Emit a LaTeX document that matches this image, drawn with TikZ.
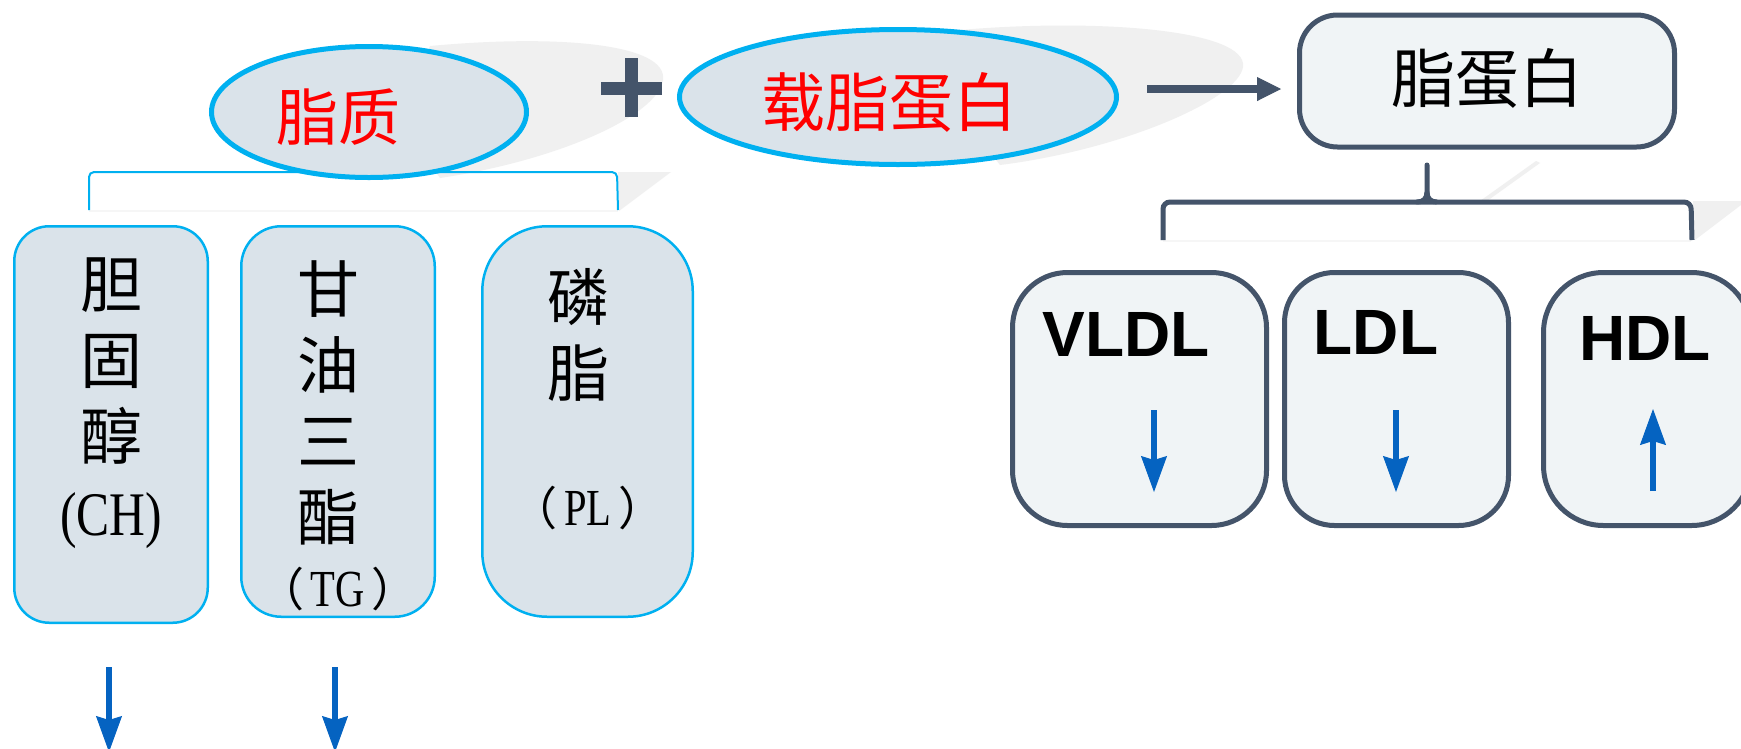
\documentclass[tikz,border=0pt]{standalone}
\usepackage{fontspec}
\usepackage{graphicx}
\setmainfont{Liberation Serif}
\newfontfamily\cjk{Noto Sans CJK SC}
\newfontfamily\lsans{Liberation Sans}
\usetikzlibrary{arrows.meta,shapes.geometric}
\definecolor{cyanb}{HTML}{00B0F0}
\definecolor{slate}{HTML}{44546A}
\definecolor{paleblue}{HTML}{DAE3EA}
\definecolor{palegrey}{HTML}{F0F4F6}
\definecolor{shadowg}{HTML}{F0F0F0}
\definecolor{arrowblue}{HTML}{0563C1}
\tikzset{
  lipell/.style={ellipse, draw=cyanb, line width=5pt, fill=paleblue, inner sep=0pt},
  lipbox/.style={rectangle, draw=cyanb, line width=2.5pt, fill=paleblue, inner sep=0pt},
  lpbox/.style={rectangle, draw=slate, line width=5pt, fill=palegrey, inner sep=0pt},
  redtxt/.style={text=red, font=\cjk\fontsize{62}{70}\selectfont, inner sep=0pt},
  blktxt/.style={text=black, font=\cjk\fontsize{64}{70}\selectfont, inner sep=0pt},
  coltxt/.style={text=black, font=\cjk\fontsize{62}{76}\selectfont, align=center, inner sep=0pt},
  smalltxt/.style={text=black, font=\cjk\fontsize{46}{50}\selectfont, inner sep=0pt},
  lbl/.style={text=black, font=\lsans\bfseries\fontsize{64}{70}\selectfont, inner sep=0pt},
  barrow/.style={draw=arrowblue, line width=6pt, -{Stealth[length=36pt,width=26pt,inset=4pt,line width=1pt]}},
  darrow/.style={draw=slate, line width=8pt, -{Triangle[length=24pt,width=24pt,line width=1pt]}},
  shadowfill/.style={fill=shadowg, draw=none},
}
\newcommand{\latinab}[1]{\scalebox{0.78}[1]{\rmfamily\fontsize{52}{56}\selectfont #1}}
\begin{document}
\begin{tikzpicture}[x=1pt,y=-1pt]
\useasboundingbox (0,0) rectangle (1741,748);
\clip (0,0) rectangle (1741,748);
\fill[white] (0,0) rectangle (1741,748);
% soft shadows
\path[shadowfill] (430,46) .. controls (560,34) and (668,44) .. (663,80) .. controls (658,115) and (560,160) .. (440,178) -- (400,120) -- cycle;
\path[shadowfill] (960,30) .. controls (1100,18) and (1248,30) .. (1243,67) .. controls (1238,100) and (1120,150) .. (1000,165) -- (950,100) -- cycle;
\path[shadowfill] (618,172) -- (671,172) -- (619,211) -- cycle;
\path[shadowfill] (1693,201) -- (1741,201) -- (1741,205) -- (1695,240) -- cycle;
\path[shadowfill] (1536,161) -- (1540,163) -- (1487,201) -- (1480,201) -- cycle;
\draw[shadowg!60!white, line width=2pt] (89,211) -- (618,211);
\draw[shadowg!60!white, line width=2pt] (1163,241) -- (1691,241);
% brackets
\draw[cyanb, line width=2pt, rounded corners=5pt] (89,210) -- (89,172) -- (617,172) -- (618,210);
\draw[slate, line width=5pt, rounded corners=7pt] (1163,240) -- (1163,202) -- (1691,202) -- (1692,240);
\draw[slate, line width=5pt, line cap=round] (1427,165) -- (1427,192) .. controls (1427,199) and (1423,202) .. (1417,202);
\draw[slate, line width=5pt] (1427,192) .. controls (1427,199) and (1431,202) .. (1437,202);
% top row
\node[lipell, minimum width=315pt, minimum height=131pt] (lipid) at (369,112) {};
\node[redtxt] (lipidt) at (338,117) {脂质};
\fill[slate] (601,82) rectangle (662,95);
\fill[slate] (625,58) rectangle (638,117);
\node[lipell, minimum width=437pt, minimum height=135pt] (apo) at (898,97) {};
\node[redtxt, font=\cjk\fontsize{64}{70}\selectfont] (apot) at (889,102) {载脂蛋白};
\node[lpbox, rounded corners=38pt, minimum width=375pt, minimum height=132pt] (lp) at (1487,81) {};
\node[blktxt] (lpt) at (1487,78) {脂蛋白};
\coordinate (arrowy) at (0,89);
\draw[darrow, shorten <=28pt, shorten >=16pt] (apo.east |- arrowy) -- (lp.west |- arrowy);
% left boxes
\node[lipbox, rounded corners=35pt, minimum width=193.5pt, minimum height=396.5pt] (ch) at (111,424.5) {};
\node[lipbox, rounded corners=40pt, minimum width=193.5pt, minimum height=390.5pt] (tg) at (338,421.5) {};
\node[lipbox, rounded corners=65pt, minimum width=210.5pt, minimum height=390.5pt] (pl) at (587.5,421.5) {};
\node[coltxt] (cht) at (111,403) {胆\\固\\醇\\{\rmfamily\scalebox{0.8}[1]{(CH)}}};
\node[coltxt] (tgt) at (328,403) {甘\\油\\三\\酯};
\node[smalltxt] (tgl) at (338,589) {（\hspace{6pt}\latinab{TG}\hspace{6pt}）};
\node[coltxt] (plt) at (578,335) {磷\\脂};
\node[smalltxt] (pll) at (588,508) {（\hspace{7pt}\latinab{PL}\hspace{7pt}）};
% bottom arrows
\coordinate (c1) at (109,667);
\coordinate (c2) at (109,752);
\coordinate (t1) at (335,667);
\coordinate (t2) at (335,752);
\draw[barrow] (c1) -- (c2);
\draw[barrow] (t1) -- (t2);
% right boxes
\node[lpbox, rounded corners=55pt, minimum width=254pt, minimum height=253pt] (vldl) at (1139.5,399) {};
\node[lpbox, rounded corners=50pt, minimum width=224pt, minimum height=253pt] (ldl) at (1396.5,399) {};
\node[lpbox, rounded corners=60pt, minimum width=208pt, minimum height=253pt] (hdl) at (1647.5,399) {};
\node[lbl] (vldlt) at (1126,334) {VLDL};
\node[lbl] (ldlt) at (1376,332) {LDL};
\node[lbl] (hdlt) at (1645,338) {HDL};
\coordinate (v1) at (1154,410);
\coordinate (v2) at (1154,492);
\coordinate (l1) at (1396,410);
\coordinate (l2) at (1396,492);
\coordinate (h1) at (1653,491);
\coordinate (h2) at (1653,409);
\draw[barrow] (v1) -- (v2);
\draw[barrow] (l1) -- (l2);
\draw[barrow] (h1) -- (h2);
\end{tikzpicture}
\end{document}
